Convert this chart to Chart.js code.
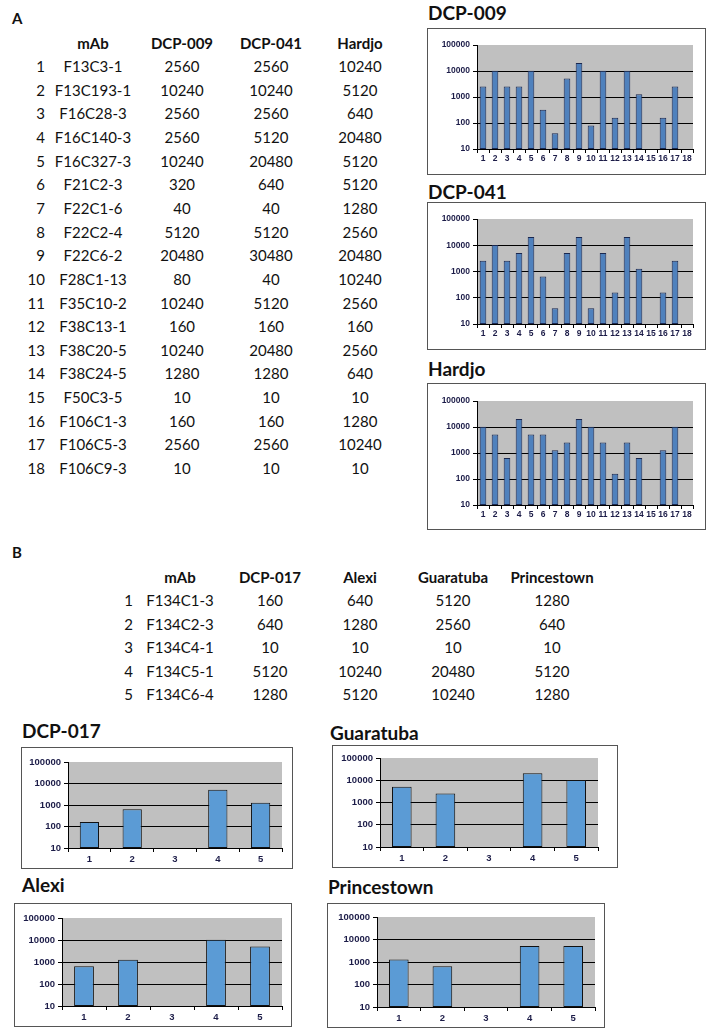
<!DOCTYPE html>
<html>
<head>
<meta charset="utf-8">
<script src="https://cdn.jsdelivr.net/npm/chart.js@4.4.1/dist/chart.umd.min.js"></script>
<style>
    body { margin: 0; width: 708px; height: 1032px; background: #fff; position: relative; overflow: hidden; font-family: Lato, "Open Sans", sans-serif; color: #111; }
    .t { position: absolute; white-space: nowrap; font-size: 15px; line-height: 18px; transform: translate(-50%, -50%); }
    .r { transform: translate(-100%, -50%); }
    .h { font-weight: bold; }
    .lbl { position: absolute; font-weight: bold; font-size: 15px; line-height: 18px; transform: translate(0, -50%); }
    .ttl { position: absolute; font-weight: bold; font-size: 19px; line-height: 22px; transform: translate(0, -50%); white-space: nowrap; }
    .box { position: absolute; border: 1px solid #555; box-sizing: border-box; background: #fff; }
    .box canvas { position: absolute; left: 0; top: 0; }
</style>
</head>
<body>
<script>
// Panel A - títulos (tabla)
const mAbA = ['F13C3-1', 'F13C193-1', 'F16C28-3', 'F16C140-3', 'F16C327-3', 'F21C2-3', 'F22C1-6', 'F22C2-4', 'F22C6-2',
    'F28C1-13', 'F35C10-2', 'F38C13-1', 'F38C20-5', 'F38C24-5', 'F50C3-5', 'F106C1-3', 'F106C5-3', 'F106C9-3'];
const dcp009 = [2560, 10240, 2560, 2560, 10240, 320, 40, 5120, 20480, 80, 10240, 160, 10240, 1280, 10, 160, 2560, 10];
const dcp041 = [2560, 10240, 2560, 5120, 20480, 640, 40, 5120, 30480, 40, 5120, 160, 20480, 1280, 10, 160, 2560, 10];
const hardjo = [10240, 5120, 640, 20480, 5120, 5120, 1280, 2560, 20480, 10240, 2560, 160, 2560, 640, 10, 1280, 10240, 10];

// Panel B - títulos (tabla)
const mAbB = ['F134C1-3', 'F134C2-3', 'F134C4-1', 'F134C5-1', 'F134C6-4'];
const dcp017 = [160, 640, 10, 5120, 1280];
const alexi = [640, 1280, 10, 10240, 5120];
const guaratuba = [5120, 2560, 10, 20480, 10240];
const princestown = [1280, 640, 10, 5120, 1280];

// Valores tal como aparecen dibujados en las barras (difieren de la tabla en dos casos)
const dcp041Bars = [2560, 10240, 2560, 5120, 20480, 640, 40, 5120, 20480, 40, 5120, 160, 20480, 1280, 10, 160, 2560, 10];
const princestownBars = [1280, 640, 10, 5120, 5120];

const headersA = ['mAb', 'DCP-009', 'DCP-041', 'Hardjo'];
const headersB = ['mAb', 'DCP-017', 'Alexi', 'Guaratuba', 'Princestown'];
const logTicks = [10, 100, 1000, 10000, 100000];

// Texto posicionado
function addText(cls, text, x, y) {
    const el = document.createElement('div');
    el.className = cls;
    el.textContent = text;
    el.style.left = x + 'px';
    el.style.top = y + 'px';
    document.body.appendChild(el);
    return el;
}

function buildTable(headers, names, cols, pos) {
    headers.forEach((h, j) => addText('t h', h, pos.cols[j + 1], pos.headY));
    names.forEach((name, i) => {
        const y = pos.rowY + i * pos.step;
        addText('t r', String(i + 1), pos.cols[0], y);
        addText('t', name, pos.cols[1], y);
        cols.forEach((c, j) => addText('t', String(c[i]), pos.cols[j + 2], y));
    });
}

addText('lbl', 'A', 12, 18);
buildTable(headersA, mAbA, [dcp009, dcp041, hardjo], { cols: [45, 93, 182, 271, 360], headY: 43, rowY: 66, step: 23.65 });
addText('lbl', 'B', 12, 552);
buildTable(headersB, mAbB, [dcp017, alexi, guaratuba, princestown], { cols: [133, 180, 270, 360, 453, 552], headY: 577, rowY: 600, step: 23.6 });

// Fondo gris del área de trazado
const plotFill = {
    id: 'plotFill',
    beforeDraw(chart) {
        const { ctx, chartArea: a } = chart;
        ctx.save();
        ctx.fillStyle = '#c0c0c0';
        ctx.fillRect(a.left, a.top, a.right - a.left, a.bottom - a.top);
        ctx.restore();
    }
};

function makeChart(title, values, g, s) {
    addText('ttl', title, g.tx, g.ty);
    const box = document.createElement('div');
    box.className = 'box';
    box.style.left = g.x + 'px';
    box.style.top = g.y + 'px';
    box.style.width = g.w + 'px';
    box.style.height = g.h + 'px';
    const cv = document.createElement('canvas');
    const iw = g.w - 2, ih = g.h - 2;
    cv.width = iw; cv.height = ih;
    cv.style.width = iw + 'px'; cv.style.height = ih + 'px';
    box.appendChild(cv);
    document.body.appendChild(box);

    const innerL = g.x + 1, innerT = g.y + 1, innerR = g.x + g.w - 1, innerB = g.y + g.h - 1;
    const tickFont = { family: '"Liberation Sans", Arial, sans-serif', size: s.fs, weight: 'bold' };

    new Chart(cv.getContext('2d'), {
        type: 'bar',
        data: {
            labels: values.map((_, i) => String(i + 1)),
            datasets: [{
                data: values,
                backgroundColor: s.fill,
                borderColor: s.edge,
                borderWidth: 1,
                borderSkipped: false,
                barPercentage: s.bar,
                categoryPercentage: 1
            }]
        },
        options: {
            responsive: false,
            animation: false,
            devicePixelRatio: 1,
            events: [],
            layout: { padding: { top: g.pt - innerT, right: innerR - g.pr, left: 0, bottom: 0 } },
            plugins: { legend: { display: false }, tooltip: { enabled: false } },
            scales: {
                x: {
                    afterFit: sc => { sc.height = innerB - g.pb; },
                    ticks: { autoSkip: false, maxRotation: 0, minRotation: 0, font: tickFont, color: '#1c1c48', padding: s.xpad },
                    grid: { drawOnChartArea: false, tickLength: 4, color: '#000', offset: true },
                    border: { color: '#000', width: 1 }
                },
                y: {
                    type: 'logarithmic',
                    min: 10,
                    max: 100000,
                    afterBuildTicks: sc => { sc.ticks = logTicks.map(v => ({ value: v })); },
                    afterFit: sc => { sc.width = g.pl - innerL; },
                    ticks: { font: tickFont, color: '#1c1c48', padding: 3, callback: v => String(v) },
                    grid: {
                        color: c => (c.tick && c.tick.value === 100000) ? 'rgba(0,0,0,0)' : '#000',
                        tickColor: '#000',
                        tickLength: 4
                    },
                    border: { color: '#000', width: 1 }
                }
            }
        },
        plugins: [plotFill]
    });
}

// Estilos de los dos grupos de gráficos
const styleA = { fill: '#4f81bd', edge: '#1a2850', bar: 0.55, fs: 8.5, xpad: 1 };
const styleB = { fill: '#5b9bd5', edge: '#111', bar: 0.45, fs: 9.5, xpad: 2 };

makeChart('DCP-009', dcp009, { tx: 428, ty: 13, x: 427, y: 28, w: 279, h: 147, pl: 477, pr: 693, pt: 45, pb: 149 }, styleA);
makeChart('DCP-041', dcp041Bars, { tx: 428, ty: 192, x: 427, y: 202, w: 279, h: 148, pl: 477, pr: 693, pt: 219, pb: 324 }, styleA);
makeChart('Hardjo', hardjo, { tx: 428, ty: 369, x: 427, y: 383, w: 279, h: 147, pl: 477, pr: 693, pt: 401, pb: 505 }, styleA);

makeChart('DCP-017', dcp017, { tx: 22, ty: 731, x: 21, y: 747, w: 272, h: 122, pl: 68, pr: 282, pt: 762, pb: 848 }, styleB);
makeChart('Guaratuba', guaratuba, { tx: 330, ty: 733, x: 332, y: 745, w: 286, h: 123, pl: 380, pr: 598, pt: 758, pb: 847 }, styleB);
makeChart('Alexi', alexi, { tx: 22, ty: 885, x: 14, y: 903, w: 278, h: 124, pl: 62, pr: 282, pt: 918, pb: 1006 }, styleB);
makeChart('Princestown', princestownBars, { tx: 328, ty: 887, x: 327, y: 903, w: 278, h: 125, pl: 377, pr: 595, pt: 917, pb: 1007 }, styleB);
</script>
</body>
</html>
